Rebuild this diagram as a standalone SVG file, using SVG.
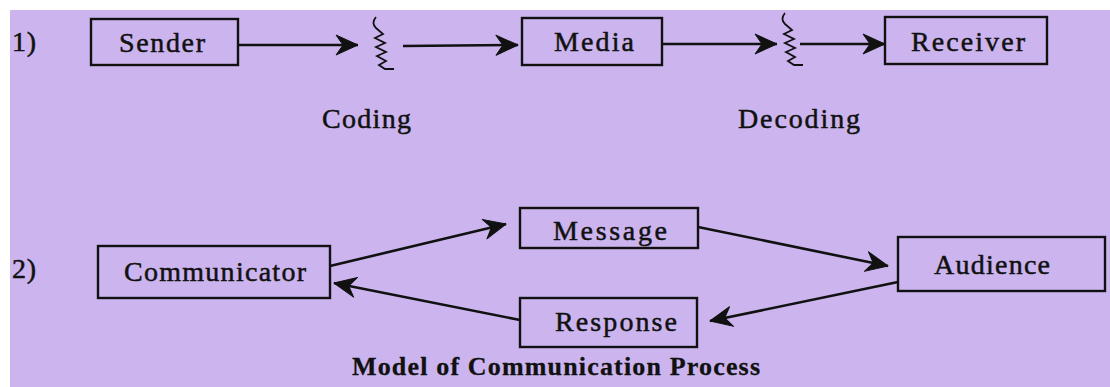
<svg xmlns="http://www.w3.org/2000/svg" width="1110" height="387" viewBox="0 0 1110 387">
  <defs>
    <style>
      .bg { fill: #ccb5ef; }
      .box { fill: none; stroke: #111; stroke-width: 2.4; }
      .lbl { font-family: "Liberation Serif", "Times New Roman", serif; font-size: 28px; fill: #111; stroke: #111; stroke-width: 0.5; }
      .ttl { font-family: "Liberation Serif", "Times New Roman", serif; font-size: 26px; font-weight: bold; fill: #111; stroke: #111; stroke-width: 0.3; }
      .wire { fill: none; stroke: #111; stroke-width: 2.6; }
      .noise { fill: none; stroke: #111; stroke-width: 1.8; stroke-linejoin: miter; }
    </style>
    <marker id="dart" viewBox="-24 -12 26 24" refX="0" refY="0" markerWidth="26" markerHeight="24" markerUnits="userSpaceOnUse" orient="auto">
      <path d="M0,0 L-22,-10 L-15,0 L-22,10 Z" fill="#111" stroke="#111" stroke-width="1" stroke-linejoin="round"/>
    </marker>
  </defs>

  <rect x="0" y="0" width="1110" height="387" fill="#fff"/>
  <rect class="bg" x="10" y="10" width="1100" height="377"/>

  <!-- row 1: linear model -->
  <text class="lbl" x="12" y="51" textLength="24" lengthAdjust="spacing">1)</text>

  <g id="sender">
    <rect class="box" x="91" y="19" width="147" height="46"/>
    <text class="lbl" x="119" y="52" textLength="86" lengthAdjust="spacing">Sender</text>
  </g>
  <g id="media">
    <rect class="box" x="522" y="18" width="140" height="47"/>
    <text class="lbl" x="554" y="51" textLength="80" lengthAdjust="spacing">Media</text>
  </g>
  <g id="receiver">
    <rect class="box" x="885" y="17" width="162" height="47"/>
    <text class="lbl" x="911" y="51" textLength="114" lengthAdjust="spacing">Receiver</text>
  </g>

  <g id="coding">
    <path class="noise" d="M376,17 q-5,6 0,11 l7,6 l-8,4 l10,5 l-9,4 l10,5 l-9,4 l9,5 l-7,4 l6,4 h9"/>
    <text class="lbl" x="322" y="128" textLength="89" lengthAdjust="spacing">Coding</text>
  </g>
  <g id="decoding">
    <path class="noise" d="M785,13 q-5,6 0,11 l7,6 l-8,4 l10,5 l-9,4 l10,5 l-9,4 l9,5 l-7,4 l6,4 h9"/>
    <text class="lbl" x="738" y="128" textLength="122" lengthAdjust="spacing">Decoding</text>
  </g>

  <!-- row 2: circular model -->
  <text class="lbl" x="12" y="278" textLength="24" lengthAdjust="spacing">2)</text>

  <g id="communicator">
    <rect class="box" x="98" y="246" width="232" height="52"/>
    <text class="lbl" x="124" y="281" textLength="182" lengthAdjust="spacing">Communicator</text>
  </g>
  <g id="message">
    <rect class="box" x="520" y="208" width="178" height="40"/>
    <text class="lbl" x="553" y="240" textLength="114" lengthAdjust="spacing">Message</text>
  </g>
  <g id="audience">
    <rect class="box" x="898" y="237" width="207" height="54"/>
    <text class="lbl" x="934" y="274" textLength="116" lengthAdjust="spacing">Audience</text>
  </g>
  <g id="response">
    <rect class="box" x="520" y="298" width="177" height="49"/>
    <text class="lbl" x="555" y="331" textLength="122" lengthAdjust="spacing">Response</text>
  </g>

  <g id="connectors">
    <line class="wire" x1="238" y1="45" x2="358" y2="45" marker-end="url(#dart)"/>
    <line class="wire" x1="403" y1="46" x2="518" y2="45" marker-end="url(#dart)"/>
    <line class="wire" x1="662" y1="44" x2="777" y2="44" marker-end="url(#dart)"/>
    <line class="wire" x1="800" y1="44" x2="885" y2="44" marker-end="url(#dart)"/>
    <line class="wire" x1="330" y1="266" x2="506" y2="224" marker-end="url(#dart)"/>
    <line class="wire" x1="698" y1="227" x2="888" y2="266" marker-end="url(#dart)"/>
    <line class="wire" x1="898" y1="282" x2="710" y2="321" marker-end="url(#dart)"/>
    <line class="wire" x1="520" y1="320" x2="334" y2="283" marker-end="url(#dart)"/>
  </g>

  <text class="ttl" x="352" y="375" textLength="408" lengthAdjust="spacing">Model of Communication Process</text>
</svg>
